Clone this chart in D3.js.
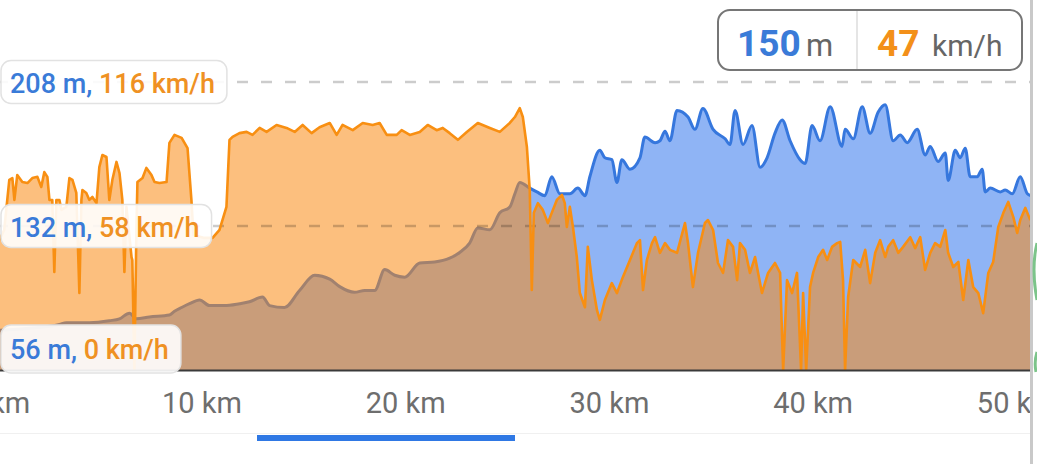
<!DOCTYPE html>
<html><head><meta charset="utf-8">
<script src="https://cdn.jsdelivr.net/npm/d3@7"></script>
<style>html,body{margin:0;padding:0;background:#fff;overflow:hidden}text{font-family:Roboto,"Noto Sans",sans-serif}</style>
</head><body>
<svg id="c" width="1037" height="464"></svg>
<script>
// ---- data ----
const elevDist = [0.05,1.52,3.0,3.34,4.47,5.45,5.95,6.44,6.78,7.42,8.40,8.65,9.0,9.39,9.88,10.37,11.1,11.84,12.33,12.97,13.32,14.05,14.79,15.53,16.27,16.76,17.49,17.99,18.48,18.97,19.46,19.95,20.69,21.42,22.16,22.65,23.14,23.54,24.13,24.62,25.11,25.36,25.6,26.09,26.44,26.83,27.17,27.57,28.06,28.45,28.8,29.04,29.53,29.78,30.12,30.37,30.61,31.01,31.5,31.74,32.24,32.48,32.73,32.97,33.32,33.86,34.2,34.59,35.09,35.68,35.92,36.17,36.56,37.0,37.4,37.74,38.13,38.48,38.87,39.36,39.61,39.95,40.34,40.84,41.42,41.57,41.97,42.41,42.8,43.19,43.54,43.93,44.28,44.62,45.11,45.5,45.75,46.14,46.49,46.63,46.98,47.22,47.47,47.71,48.06,48.3,48.45,48.7,49.19,49.43,49.78,50.17,50.52,50.71];
const elevM = [77,78,80,81,81,82,83,86,83,84,85,87,89,91,93,90,90,91,92,94.5,90,89,98,106,104,100,97,98,98,109,106,105,112.5,113,115,118,123,131,130,139,142,149,155,152,150,148,158,149,149,152,148,158,172,168,167,155,167,162,168,179,176,177,182,177,193,189.5,183,194,183,178,175,193,175,185,163,168,181,188,177,167,165,185,177,195,174,183,178,195,181,192,196,177,180,176,183,169.5,174,166,170.5,156,172,168,173,158,158,162,150,152,150,151,149,158,149,148];

const speedDist = [0.05,0.29,0.54,0.69,0.79,0.93,1.18,1.43,1.67,1.92,2.11,2.26,2.41,2.51,2.65,2.75,2.85,3.0,3.1,3.34,3.49,3.64,3.83,3.98,4.08,4.13,4.32,4.47,4.62,4.82,4.96,5.11,5.31,5.45,5.6,5.8,5.95,6.09,6.19,6.29,6.54,6.58,6.68,6.78,6.83,7.08,7.27,7.52,7.67,7.91,8.26,8.4,8.65,9.0,9.29,9.48,9.58,10.12,10.52,10.86,11.2,11.35,11.5,11.84,12.19,12.48,12.83,13.17,13.66,14.15,14.55,14.94,15.38,15.77,16.27,16.61,16.9,17.4,17.89,18.38,18.72,19.07,19.56,19.8,20.2,20.69,21.08,21.52,21.82,22.16,22.56,23.0,23.54,24.13,24.62,25.11,25.36,25.6,25.75,25.95,26.09,26.19,26.29,26.49,26.73,26.98,27.17,27.42,27.67,27.81,27.91,28.06,28.21,28.4,28.55,28.8,28.94,29.14,29.39,29.53,29.78,30.12,30.37,30.66,31.01,31.35,31.5,31.65,31.84,32.09,32.24,32.48,32.73,32.97,33.32,33.71,33.86,34.1,34.35,34.69,34.84,35.09,35.33,35.58,35.82,36.07,36.27,36.41,36.66,36.9,37.15,37.49,37.79,38.13,38.38,38.53,38.72,38.97,39.21,39.41,39.51,39.66,39.85,40.0,40.25,40.49,40.69,40.93,41.18,41.33,41.47,41.57,41.72,41.97,42.31,42.56,42.8,43.05,43.29,43.54,43.69,43.93,44.18,44.42,44.77,45.01,45.26,45.5,45.75,45.99,46.24,46.49,46.63,46.88,47.13,47.37,47.62,47.86,48.11,48.35,48.6,48.84,49.09,49.34,49.58,49.83,50.02,50.17,50.42,50.66];
const speedKmh = [52.3,56.4,76.6,77.3,68.5,78.5,75.7,75.3,77.3,77.8,73.7,79.7,77.8,68.5,68.5,39.5,68.5,68.5,64.5,65.7,77.3,76.6,71.3,31.0,68.5,72.5,71.3,68.5,69.7,67.2,81.7,86.6,85.8,68.5,76.6,83.8,79.3,68.5,39.5,65.7,45.5,44.3,0,56.4,75.7,77.3,81.4,78.5,75.7,75.3,75.7,91.5,94.7,93.5,89.4,68.5,54.4,53.2,53.2,56.4,65.7,92.7,93.9,95.4,95.9,94.7,97.5,95.9,98.7,97.5,95.9,98.7,95.4,97.8,99.5,94.7,98.7,96.6,99.5,98.7,99.5,94.7,94.7,96.6,94.7,95.9,98.7,96.6,97.5,95.4,92.7,95.9,99.5,97.5,95.9,99.5,101.9,105.5,101.9,89.8,72.5,32.2,63.3,67.2,64.5,59.2,63.3,68.5,70.5,67.2,57.6,65.7,57.6,45.5,31.0,25.3,49.6,36.2,24.1,20.2,28.2,35.0,31.0,37.4,44.3,51.1,52.3,32.2,44.3,51.1,53.5,47.2,51.1,48.4,47.2,59.2,51.1,33.4,47.2,59.2,60.4,56.4,43.1,39.1,52.3,49.6,36.2,51.1,48.4,39.1,45.5,31.0,39.1,43.1,39.1,0,36.2,31.0,39.1,0,31.0,0,33.4,39.1,45.5,48.4,44.3,49.6,51.1,51.6,36.2,0,29.4,44.3,41.5,48.4,35.0,47.2,52.3,45.5,49.6,52.3,47.2,49.6,53.5,49.1,53.5,40.3,47.2,51.1,49.6,56.4,47.2,41.5,43.5,28.2,44.3,33.4,31.0,22.9,39.1,43.5,57.6,63.3,67.7,61.6,55.2,60.4,65.3,60.4];

const elevTicks = [56,132,208];
const speedTicks = [0,58,116];
const xTicks = [0,10,20,30,40,50];
const currentElev = [150];
const currentSpeed = [47];

// ---- layout ----
const svg = d3.select("#c");
const plotRight = 1030, plotBottom = 370, plotTop = 82;
const x = d3.scaleLinear().domain([0,50]).range([-1.7,1016.8]);
const yE = d3.scaleLinear().domain([56,208]).range([plotBottom,plotTop]);
const yS = d3.scaleLinear().domain([0,116]).range([plotBottom,plotTop]);

const BLUE_T = "#3a7bd8", ORANGE_T = "#ef9123";

const defs = svg.append("defs");
defs.append("clipPath").attr("id","plot").append("rect").attr("x",0).attr("y",0).attr("width",plotRight).attr("height",plotBottom+1);
defs.append("clipPath").attr("id","axisclip").append("rect").attr("x",0).attr("y",372).attr("width",plotRight).attr("height",60);

const elev = elevDist.map((d,i)=>({d, v:elevM[i]}));
const speed = speedDist.map((d,i)=>({d, v:speedKmh[i]}));

const g = svg.append("g").attr("clip-path","url(#plot)");
g.append("path").datum(elev)
  .attr("d", d3.area().x(p=>x(p.d)).y0(plotBottom).y1(p=>yE(p.v)).curve(d3.curveMonotoneX))
  .attr("fill","#8fb4f5");
g.append("path").datum(elev)
  .attr("d", d3.line().x(p=>x(p.d)).y(p=>yE(p.v)).curve(d3.curveMonotoneX))
  .attr("fill","none").attr("stroke","#3677dd").attr("stroke-width",3).attr("stroke-linejoin","round");
g.append("path").datum(speed)
  .attr("d", d3.area().x(p=>x(p.d)).y0(plotBottom).y1(p=>yS(p.v)))
  .attr("fill","#fa8a14").attr("fill-opacity",0.55);

// dashed grid lines
g.selectAll("line.grid").data(elevTicks.slice(1)).join("line")
  .attr("x1",-3).attr("x2",plotRight).attr("y1",d=>yE(d)).attr("y2",d=>yE(d))
  .attr("stroke","rgba(0,0,0,0.2)").attr("stroke-width",2.5).attr("stroke-dasharray","11,13");

g.append("path").datum(speed)
  .attr("d", d3.line().x(p=>x(p.d)).y(p=>yS(p.v)))
  .attr("fill","none").attr("stroke","#f88f12").attr("stroke-width",2.6).attr("stroke-linejoin","round");

// baseline
svg.append("line").attr("x1",0).attr("x2",plotRight).attr("y1",plotBottom+0.5).attr("y2",plotBottom+0.5)
  .attr("stroke","#3a3a3a").attr("stroke-width",2);

// y labels
elevTicks.forEach((t,i)=>{
  const cy = Math.min(yE(t), 372-24);
  const lg = svg.append("g");
  const rect = lg.append("rect").attr("x",1).attr("rx",10).attr("ry",10)
    .attr("fill","rgba(255,255,255,0.9)").attr("stroke","#e2e2e2").attr("stroke-width",1.5);
  const tx = lg.append("text").attr("x",10).attr("y",cy+10.5)
    .attr("font-size",27).attr("font-weight",500);
  tx.append("tspan").attr("fill",BLUE_T).text(`${t} m, `);
  tx.append("tspan").attr("fill",ORANGE_T).text(`${speedTicks[i]} km/h`);
  const w = tx.node().getComputedTextLength();
  const h = i===0 ? 48 : 43;
  rect.attr("width", w+21).attr("y", i===0 ? 325 : cy-h/2).attr("height", h);
});

// x axis labels
svg.append("g").attr("clip-path","url(#axisclip)")
  .selectAll("text").data(xTicks).join("text")
  .attr("x",d=>x(d)).attr("y",413).attr("text-anchor","middle")
  .attr("font-size",29).attr("fill","#6e6e6e").text(d=>`${d} km`);

// bottom separator + tab indicator
svg.append("line").attr("x1",0).attr("x2",plotRight).attr("y1",433.5).attr("y2",433.5).attr("stroke","#f0f0f0").attr("stroke-width",1);
svg.append("rect").attr("x",257).attr("y",435).attr("width",258).attr("height",6).attr("fill","#2f78e4");

// right edge strip
svg.append("rect").attr("x",1030).attr("y",0).attr("width",3).attr("height",464).attr("fill","#c9c9c9");
svg.append("path").attr("d","M1037,243 Q1031,268 1037,300").attr("fill","none").attr("stroke","#7cc48a").attr("stroke-width",3);
svg.append("path").attr("d","M1037,352 Q1034,362 1036,372").attr("fill","none").attr("stroke","#7cc48a").attr("stroke-width",3);

// current value box
svg.append("rect").attr("x",718).attr("y",10).attr("width",304).attr("height",60).attr("rx",12).attr("ry",12)
  .attr("fill","#fff").attr("stroke","#767676").attr("stroke-width",2);
svg.append("line").attr("x1",857).attr("x2",857).attr("y1",11).attr("y2",69).attr("stroke","#dcdcdc").attr("stroke-width",1.5);
svg.append("text").attr("x",737).attr("y",56).attr("font-size",37).attr("font-weight",700).attr("fill",BLUE_T).text(currentElev[0]);
svg.append("text").attr("x",806).attr("y",56).attr("font-size",31).attr("fill","#666").text("m");
svg.append("text").attr("x",877).attr("y",56).attr("font-size",37).attr("font-weight",700).attr("fill","#f39019").text(currentSpeed[0]);
svg.append("text").attr("x",932).attr("y",56).attr("font-size",30).attr("fill","#666").text("km/h");
</script>
</body></html>
